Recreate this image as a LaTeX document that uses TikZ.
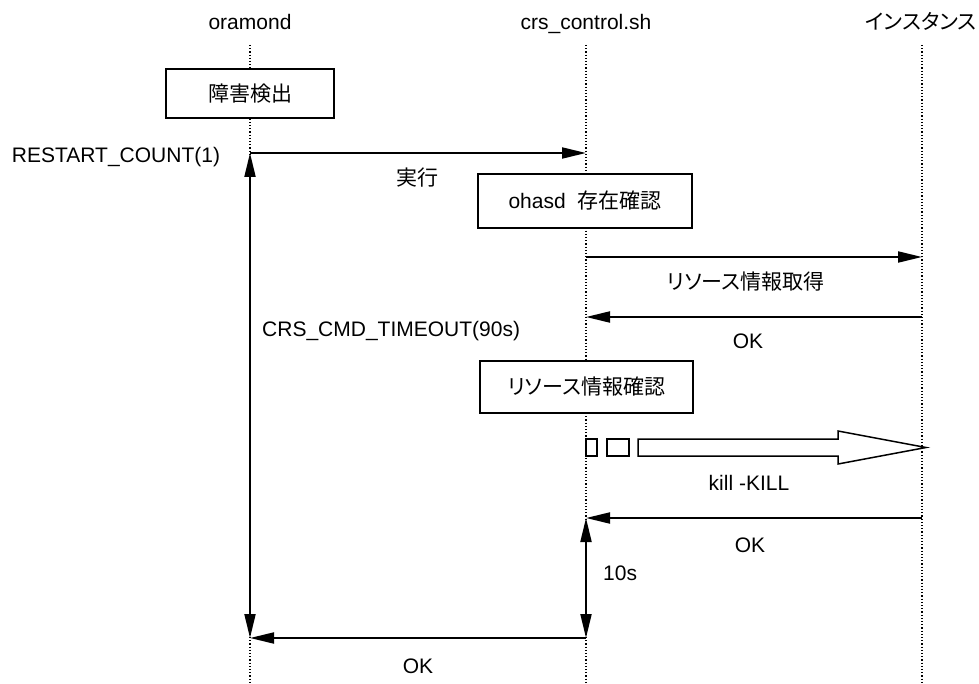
\documentclass[tikz,border=0pt]{standalone}
\usepackage{fontspec}
\setmainfont{Liberation Sans}
\newfontfamily\jp[RawFeature=+palt]{Noto Sans CJK JP}
\usetikzlibrary{arrows.meta}

\begin{document}
\begin{tikzpicture}[
    x=1pt, y=-1pt,
    >={Triangle[length=24pt, width=11pt]},
    lifeline/.style={dotted, line width=1.2pt},
    msg/.style={->, line width=2pt},
    span/.style={<->, line width=2pt},
    task/.style={draw, fill=white, line width=1.5pt, inner sep=0pt,
                 font=\fontsize{21}{25}\selectfont},
    txt/.style={font=\fontsize{21}{25}\selectfont, inner sep=0pt, anchor=base},
    hollow/.style={draw, fill=white, line width=1.5pt},
]
\useasboundingbox (0,0) rectangle (979,684);

% Participants
\node[txt] (hOra) at (250,30) {oramond};
\node[txt] (hCrs) at (586,30) {crs\_control.sh};
\node[txt] (hInst) at (921,29.5) {\jp インスタンス};

\coordinate (oTop) at (250,45);  \coordinate (oBot) at (250,684);
\coordinate (cTop) at (586,45);  \coordinate (cBot) at (586,684);
\coordinate (iTop) at (922,45);  \coordinate (iBot) at (922,684);
\draw[lifeline] (oTop) -- (oBot);
\draw[lifeline] (cTop) -- (cBot);
\draw[lifeline] (iTop) -- (iBot);

% Activities
\node[task, minimum width=168pt, minimum height=49pt] (detect) at (250,93.5) {\jp 障害検出};
\node[task, minimum width=214pt, minimum height=54pt] (ohasd) at (585,201) {ohasd\ \ {\jp 存在確認}};
\node[task, minimum width=213pt, minimum height=52pt] (resChk) at (586.5,387) {\jp リソース情報確認};

% Messages
\coordinate (o1) at (250,153);  \coordinate (c1) at (586,153);
\coordinate (c2) at (586,257);  \coordinate (i2) at (922,257);
\coordinate (i3) at (922,317);  \coordinate (c3) at (586,317);
\coordinate (i4) at (922,518);  \coordinate (c4) at (586,518);
\coordinate (c5) at (586,638);  \coordinate (o5) at (250,638);

\draw[msg] (o1) -- (c1);
\draw[msg] (c2) -- (i2);
\draw[msg] (i3) -- (c3);
\draw[msg] (i4) -- (c4);
\draw[msg] (c5) -- (o5);

% Timers
\draw[span] (o1) -- (o5);
\draw[span] (c4) -- (c5);

% kill signal
\draw[hollow] (586,439) rectangle (597,456);
\draw[hollow] (607,439) rectangle (629,456);
\draw[hollow] (638,439) -- (838,439) -- (838,431) -- (926,447.5)
    -- (838,464) -- (838,456) -- (638,456) -- cycle;

% Labels
\node[txt] (lRestart) at (116,163) {RESTART\_COUNT(1)};
\node[txt] (lExec) at (417,186) {\jp 実行};
\node[txt] (lGet) at (746,290) {\jp リソース情報取得};
\node[txt] (lOk1) at (748,348) {OK};
\node[txt, anchor=base west] (lTimeout) at (262,337) {CRS\_CMD\_TIMEOUT(90s)};
\node[txt] (lKill) at (749,490) {kill -KILL};
\node[txt] (lOk2) at (750,552) {OK};
\node[txt, anchor=base west] (lWait) at (603,580) {10s};
\node[txt] (lOk3) at (418,673) {OK};

\end{tikzpicture}
\end{document}
